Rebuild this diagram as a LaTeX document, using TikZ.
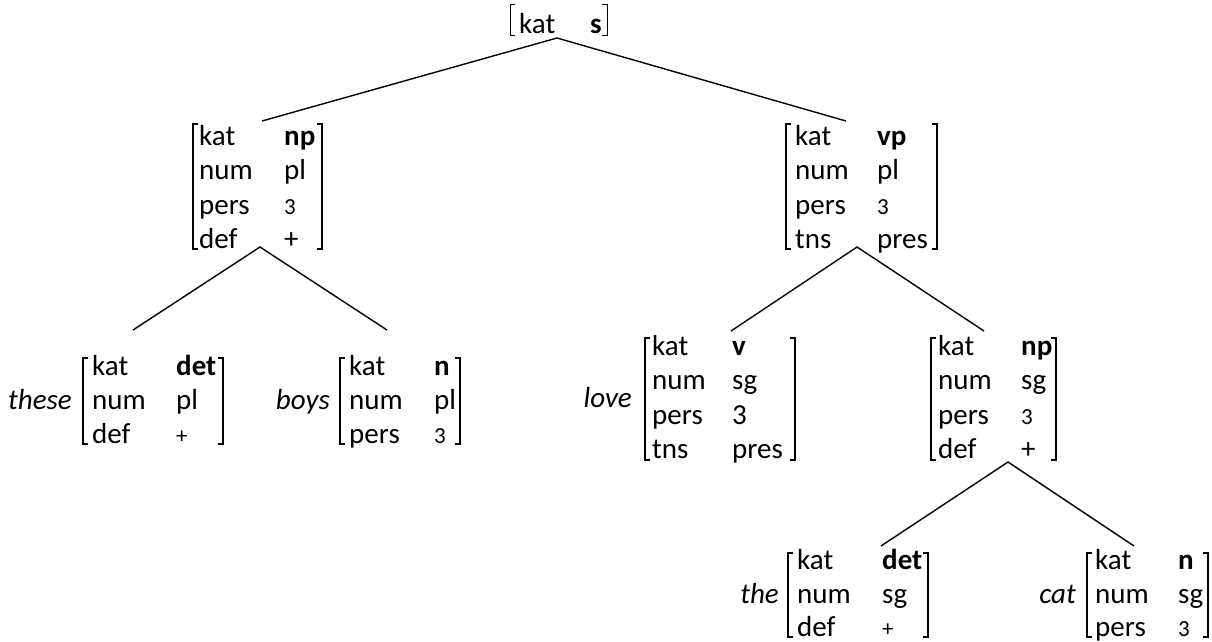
\documentclass[tikz,border=0pt]{standalone}
\usepackage{fontspec}
\setmainfont{Carlito}
\tikzset{
  lab/.style={inner sep=0pt, anchor=base west, font=\fontsize{29}{34}\selectfont},
  word/.style={inner sep=0pt, anchor=base east, font=\fontsize{29}{34}\selectfont\itshape},
  conn/.style={line width=1.4pt},
  brk/.style={line width=1.6pt, line join=miter},
  thinbrk/.style={line width=1.0pt, line join=miter}
}
\newcommand\sm[1]{{\fontsize{23}{26}\selectfont #1}}
\newcommand\avmrow[6]{\node[lab] (#1k) at (#2,#4) {#5}; \node[lab] (#1v) at (#3,#4) {#6};}
\newcommand\avmbrk[4]{%
  \draw[brk] ({#1+5},#3) -- (#1,#3) -- (#1,#4) -- ({#1+5},#4);
  \draw[brk] ({#2-5},#3) -- (#2,#3) -- (#2,#4) -- ({#2-5},#4);}
\begin{document}
\begin{tikzpicture}[x=1pt,y=-1pt]
\useasboundingbox (0,0) rectangle (1212,641);
% top node
\draw[thinbrk] (515,4) -- (510,4) -- (510,35) -- (515,35);
\draw[thinbrk] (602,4) -- (607,4) -- (607,35) -- (602,35);
\node[lab] (sk) at (519,33) {kat};
\node[lab] (sv) at (590,33) {\textbf{s}};
\coordinate (sbot) at (557,38);
% np
\avmbrk{193}{322}{124}{249}
\avmrow{npa}{199}{284}{145}{kat}{\textbf{np}}
\avmrow{npb}{199}{284}{179}{num}{pl}
\avmrow{npc}{199}{284}{214}{pers}{\sm{3}}
\avmrow{npd}{199}{284}{248}{def}{+}
\coordinate (nptop) at (262,121);
\coordinate (npbot) at (260,247);
% vp
\avmbrk{786}{937}{124}{249}
\avmrow{vpa}{795}{877}{145}{kat}{\textbf{vp}}
\avmrow{vpb}{795}{877}{179}{num}{pl}
\avmrow{vpc}{795}{877}{214}{pers}{\sm{3}}
\avmrow{vpd}{795}{877}{248}{tns}{pres}
\coordinate (vptop) at (846,121);
\coordinate (vpbot) at (857,247);
% these
\node[word] (these) at (72,409) {these};
\avmbrk{83}{223}{358}{444}
\avmrow{tha}{92}{176}{375}{kat}{\textbf{det}}
\avmrow{thb}{92}{176}{409}{num}{pl}
\avmrow{thc}{92}{176}{443}{def}{\sm{+}}
\coordinate (thesetop) at (133,330);
% boys
\node[word] (boys) at (330,409) {boys};
\avmbrk{340}{460}{358}{444}
\avmrow{boa}{349}{434}{375}{kat}{\textbf{n}}
\avmrow{bob}{349}{434}{409}{num}{pl}
\avmrow{boc}{349}{434}{443}{pers}{\sm{3}}
\coordinate (boystop) at (387,330);
% love
\node[word] (love) at (632,407) {love};
\avmbrk{645}{795}{338}{460}
\avmrow{loa}{652}{732}{355}{kat}{\textbf{v}}
\avmrow{lob}{652}{732}{389}{num}{sg}
\avmrow{loc}{652}{732}{424}{pers}{3}
\avmrow{lod}{652}{732}{458}{tns}{pres}
\coordinate (lovetop) at (731,331);
% np2
\avmbrk{931}{1056}{338}{460}
\avmrow{nqa}{938}{1021}{355}{kat}{\textbf{np}}
\avmrow{nqb}{938}{1021}{389}{num}{sg}
\avmrow{nqc}{938}{1021}{424}{pers}{\sm{3}}
\avmrow{nqd}{938}{1021}{458}{def}{+}
\coordinate (nqtop) at (984,331);
\coordinate (nqbot) at (1008,462);
% the
\node[word] (the) at (779,603) {the};
\avmbrk{788}{928}{553}{637}
\avmrow{tea}{797}{882}{569}{kat}{\textbf{det}}
\avmrow{teb}{797}{882}{603}{num}{sg}
\avmrow{tec}{797}{882}{636}{def}{\sm{+}}
\coordinate (thetop) at (881,546);
% cat
\node[word] (cat) at (1076,603) {cat};
\avmbrk{1087}{1208}{553}{637}
\avmrow{caa}{1095}{1178}{569}{kat}{\textbf{n}}
\avmrow{cab}{1095}{1178}{603}{num}{sg}
\avmrow{cac}{1095}{1178}{636}{pers}{\sm{3}}
\coordinate (cattop) at (1134,546);
% connectors
\draw[conn] (nptop) -- (sbot) -- (vptop);
\draw[conn] (thesetop) -- (npbot) -- (boystop);
\draw[conn] (lovetop) -- (vpbot) -- (nqtop);
\draw[conn] (thetop) -- (nqbot) -- (cattop);
\end{tikzpicture}
\end{document}
